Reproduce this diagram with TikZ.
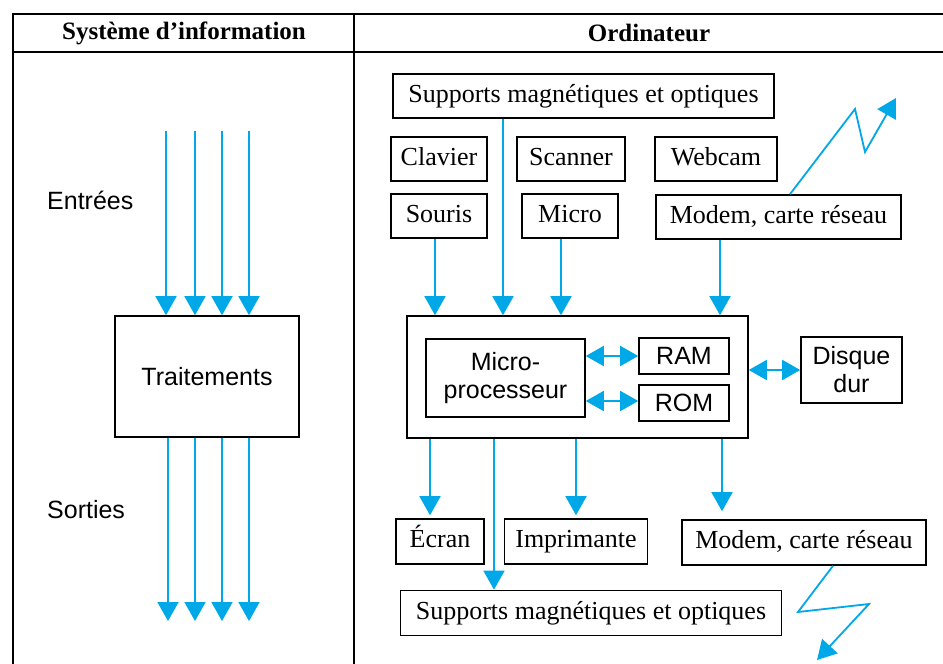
\documentclass[tikz,border=0pt]{standalone}
\usepackage{fontspec}
\setmainfont{Liberation Serif}
\setsansfont{Liberation Sans}
\usetikzlibrary{arrows.meta,calc}
\definecolor{flow}{RGB}{0,168,232}
\begin{document}
\begin{tikzpicture}[x=1pt,y=-1pt,
 bx/.style={draw,line width=1.6pt,inner sep=0pt,text height=18pt,text depth=6pt,font=\fontsize{26}{30}\selectfont},
 sbx/.style={draw,line width=1.6pt,inner sep=0pt,font=\sffamily\fontsize{25}{28}\selectfont,align=center},
 flowline/.style={draw=flow,line width=1.8pt},
 arr/.style={flowline,-{Triangle[width=21pt,length=19pt]}},
 darr/.style={flowline,{Triangle[width=20pt,length=18pt]}-{Triangle[width=20pt,length=18pt]}},
 lbl/.style={font=\sffamily\fontsize{25}{28}\selectfont,anchor=west,inner sep=0pt},
 hd/.style={font=\bfseries\fontsize{25}{28}\selectfont,inner sep=0pt},
 tab/.style={line width=2.4pt}]
\useasboundingbox (0,0) rectangle (943,664);

% table frame
\draw[tab] (13,664) -- (13,14) -- (943,14);
\draw[tab] (13,52) -- (943,52);
\draw[tab] (354,14) -- (354,664);
\node[hd] (h1) at (184,33) {Système d’information};
\node[hd] (h2) at (649,33) {Ordinateur};

% left panel
\node[lbl] (ent) at (47,200) {Entrées};
\node[lbl] (sor) at (47,510) {Sorties};
\node[sbx,minimum width=184pt,minimum height=121pt] (tra) at (207,376.5) {Traitements};
\coordinate (i1) at (166,131);
\coordinate (i2) at (195,131);
\coordinate (i3) at (222,131);
\coordinate (i4) at (249,131);
\coordinate (o1) at (168,621);
\coordinate (o2) at (195,621);
\coordinate (o3) at (222,621);
\coordinate (o4) at (249,621);
\foreach \c in {i1,i2,i3,i4} \draw[arr] (\c) -- (\c |- tra.north);
\foreach \c in {o1,o2,o3,o4} \draw[arr] (\c |- tra.south) -- (\c);

% right panel: inputs
\node[bx,minimum width=381pt,minimum height=44pt] (supT) at (583.5,96) {Supports magnétiques et optiques};
\node[bx,minimum width=96pt,minimum height=44pt] (clav) at (439,159) {Clavier};
\node[bx,minimum width=108pt,minimum height=44pt] (scan) at (571,159) {Scanner};
\node[bx,minimum width=122pt,minimum height=44pt] (web) at (716,159) {Webcam};
\node[bx,minimum width=96pt,minimum height=44pt] (sour) at (439,216) {Souris};
\node[bx,minimum width=96pt,minimum height=44pt] (mic) at (570,216) {Micro};
\node[bx,minimum width=245pt,minimum height=44pt] (modT) at (778.5,217) {Modem, carte réseau};

% central unit
\node[draw,line width=1.6pt,minimum width=341pt,minimum height=122pt,inner sep=0pt] (cpu) at (577.5,377) {};
\node[sbx,minimum width=159pt,minimum height=78pt] (mp) at (505.5,378) {Micro-\\processeur};
\node[sbx,minimum width=90pt,minimum height=36pt] (ram) at (684,356) {RAM};
\node[sbx,minimum width=90pt,minimum height=36pt] (rom) at (684,403) {ROM};
\node[sbx,minimum width=101pt,minimum height=66pt] (disk) at (851.5,370) {Disque\\dur};

% outputs
\node[bx,minimum width=88pt,minimum height=45pt] (ecr) at (440,541.5) {Écran};
\node[bx,minimum width=143pt,minimum height=45pt] (imp) at (576,541.5) {Imprimante};
\node[bx,minimum width=244pt,minimum height=45pt] (modB) at (804,542.5) {Modem, carte réseau};
\node[bx,minimum width=381pt,minimum height=45pt] (supB) at (591,613) {Supports magnétiques et optiques};

% input arrows
\draw[arr] ([xshift=-4pt]sour.south) -- ([xshift=-4pt]sour.south |- cpu.north);
\draw[arr] ([xshift=-80.5pt]supT.south) -- ([xshift=-80.5pt]supT.south |- cpu.north);
\draw[arr] ([xshift=-9pt]mic.south) -- ([xshift=-9pt]mic.south |- cpu.north);
\draw[arr] ([xshift=-58.5pt]modT.south) -- ([xshift=-58.5pt]modT.south |- cpu.north);

% internal double arrows
\draw[darr] (ram.west -| mp.east) -- (ram.west);
\draw[darr] ([yshift=2pt]rom.west -| mp.east) -- ([yshift=2pt]rom.west);
\draw[darr] (cpu.east |- disk.west) -- (disk.west);

% output arrows
\draw[arr,shorten >=3pt] ([xshift=-10pt]ecr.north |- cpu.south) -- ([xshift=-10pt]ecr.north);
\draw[arr] ([xshift=-97pt]supB.north |- cpu.south) -- ([xshift=-97pt]supB.north);
\draw[arr,shorten >=3pt] (imp.north |- cpu.south) -- (imp.north);
\draw[arr,shorten >=8pt] ([xshift=-82pt]modB.north |- cpu.south) -- ([xshift=-82pt]modB.north);

% network zigzags
\coordinate (za) at (855,109);
\coordinate (zb) at (865,152);
\coordinate (zc) at (896,98);
\draw[arr] ([xshift=11.5pt]modT.north) -- (za) -- (zb) -- (zc);
\coordinate (zd) at (798,612);
\coordinate (ze) at (869,604);
\coordinate (zf) at (817,660);
\draw[arr] ([xshift=29pt]modB.south) -- (zd) -- (ze) -- (zf);
\end{tikzpicture}
\end{document}
